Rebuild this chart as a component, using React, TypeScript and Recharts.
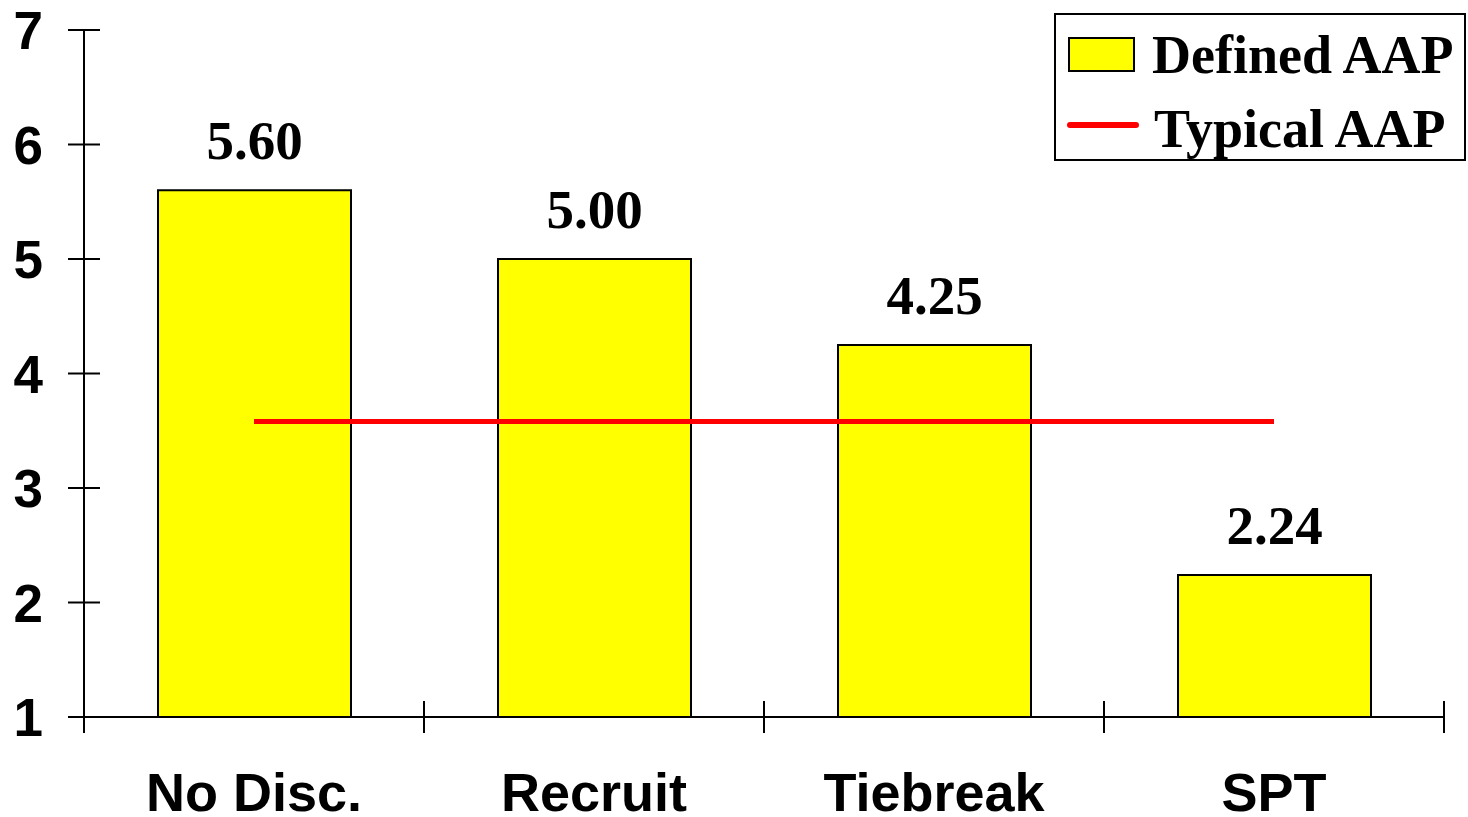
import { ComposedChart, Bar, Line, XAxis, YAxis, Legend, LabelList } from "recharts";

const categories = ["No Disc.", "Recruit", "Tiebreak", "SPT"];
const definedAAP = [5.6, 5.0, 4.25, 2.24];
const typicalAAP = [3.58, 3.58, 3.58, 3.58];
const yTicks = [1, 2, 3, 4, 5, 6, 7];

const data = categories.map((name, i) => ({ name, defined: definedAAP[i], typical: typicalAAP[i] }));

const W = 1468;
const H = 817;
const M = { top: 30, right: 24, left: 0, bottom: 0 };
const Y_W = 84;
const X_H = 100;
const BAND = (W - M.left - M.right - Y_W) / categories.length;

const SANS = "'Liberation Sans', Arial, sans-serif";
const SERIF = "'Liberation Serif', 'Times New Roman', serif";

function YTick(props: any) {
  const { x, y, payload } = props;
  return (
    <g>
      <line x1={x + 25} x2={x + 57} y1={y} y2={y} stroke="#000" strokeWidth={2} />
      <text x={x} y={y} dy={19} textAnchor="end" fontFamily={SANS} fontWeight="bold" fontSize={53} fill="#000">
        {payload.value}
      </text>
    </g>
  );
}

function XTick(props: any) {
  const { x, y, payload, index } = props;
  const left = x - BAND / 2;
  return (
    <g>
      <line x1={left} x2={left} y1={y - 32} y2={y} stroke="#000" strokeWidth={2} />
      {index === categories.length - 1 && (
        <line x1={x + BAND / 2} x2={x + BAND / 2} y1={y - 32} y2={y} stroke="#000" strokeWidth={2} />
      )}
      <text x={x} y={y} dy={78} textAnchor="middle" fontFamily={SANS} fontWeight="bold" fontSize={54} fill="#000">
        {payload.value}
      </text>
    </g>
  );
}

function ValueLabel(props: any) {
  const { x, y, width, value } = props;
  return (
    <text x={x + width / 2} y={y - 31} textAnchor="middle" fontFamily={SERIF} fontWeight="bold" fontSize={55} fill="#000">
      {Number(value).toFixed(2)}
    </text>
  );
}

function LegendBox() {
  return (
    <svg width={412} height={148} style={{ display: "block" }}>
      <rect x={1} y={1} width={410} height={146} fill="#fff" stroke="#000" strokeWidth={2} />
      <rect x={15} y={25} width={65} height={33} fill="#ffff00" stroke="#000" strokeWidth={2} />
      <text x={98} y={60} fontFamily={SERIF} fontWeight="bold" fontSize={54} fill="#000">Defined AAP</text>
      <line x1={16} x2={82} y1={112} y2={112} stroke="#ff0000" strokeWidth={6} strokeLinecap="round" />
      <text x={100} y={134} fontFamily={SERIF} fontWeight="bold" fontSize={54} fill="#000">Typical AAP</text>
    </svg>
  );
}

export default function App() {
  return (
    <div style={{ position: "fixed", top: 0, left: 0, width: W, height: H, background: "#fff" }}>
      <ComposedChart width={W} height={H} data={data} margin={M}>
        <XAxis
          dataKey="name"
          height={X_H}
          tickSize={16}
          tickMargin={0}
          tickLine={false}
          tick={<XTick />}
          axisLine={{ stroke: "#000", strokeWidth: 2 }}
          interval={0}
        />
        <YAxis
          width={Y_W}
          domain={[1, 7]}
          ticks={yTicks}
          allowDataOverflow
          tickSize={16}
          tickMargin={25}
          tickLine={false}
          tick={<YTick />}
          axisLine={{ stroke: "#000", strokeWidth: 2 }}
        />
        <Legend
          layout="horizontal"
          verticalAlign="middle"
          align="center"
          content={() => <LegendBox />}
          wrapperStyle={{ position: "absolute", top: 13, left: 1054, width: 412, height: 148 }}
        />
        <Bar dataKey="defined" name="Defined AAP" fill="#ffff00" stroke="#000" strokeWidth={2} barSize={193} isAnimationActive={false}>
          <LabelList dataKey="defined" content={<ValueLabel />} />
        </Bar>
        <Line dataKey="typical" name="Typical AAP" type="linear" stroke="#ff0000" strokeWidth={5} dot={false} isAnimationActive={false} />
      </ComposedChart>
    </div>
  );
}
